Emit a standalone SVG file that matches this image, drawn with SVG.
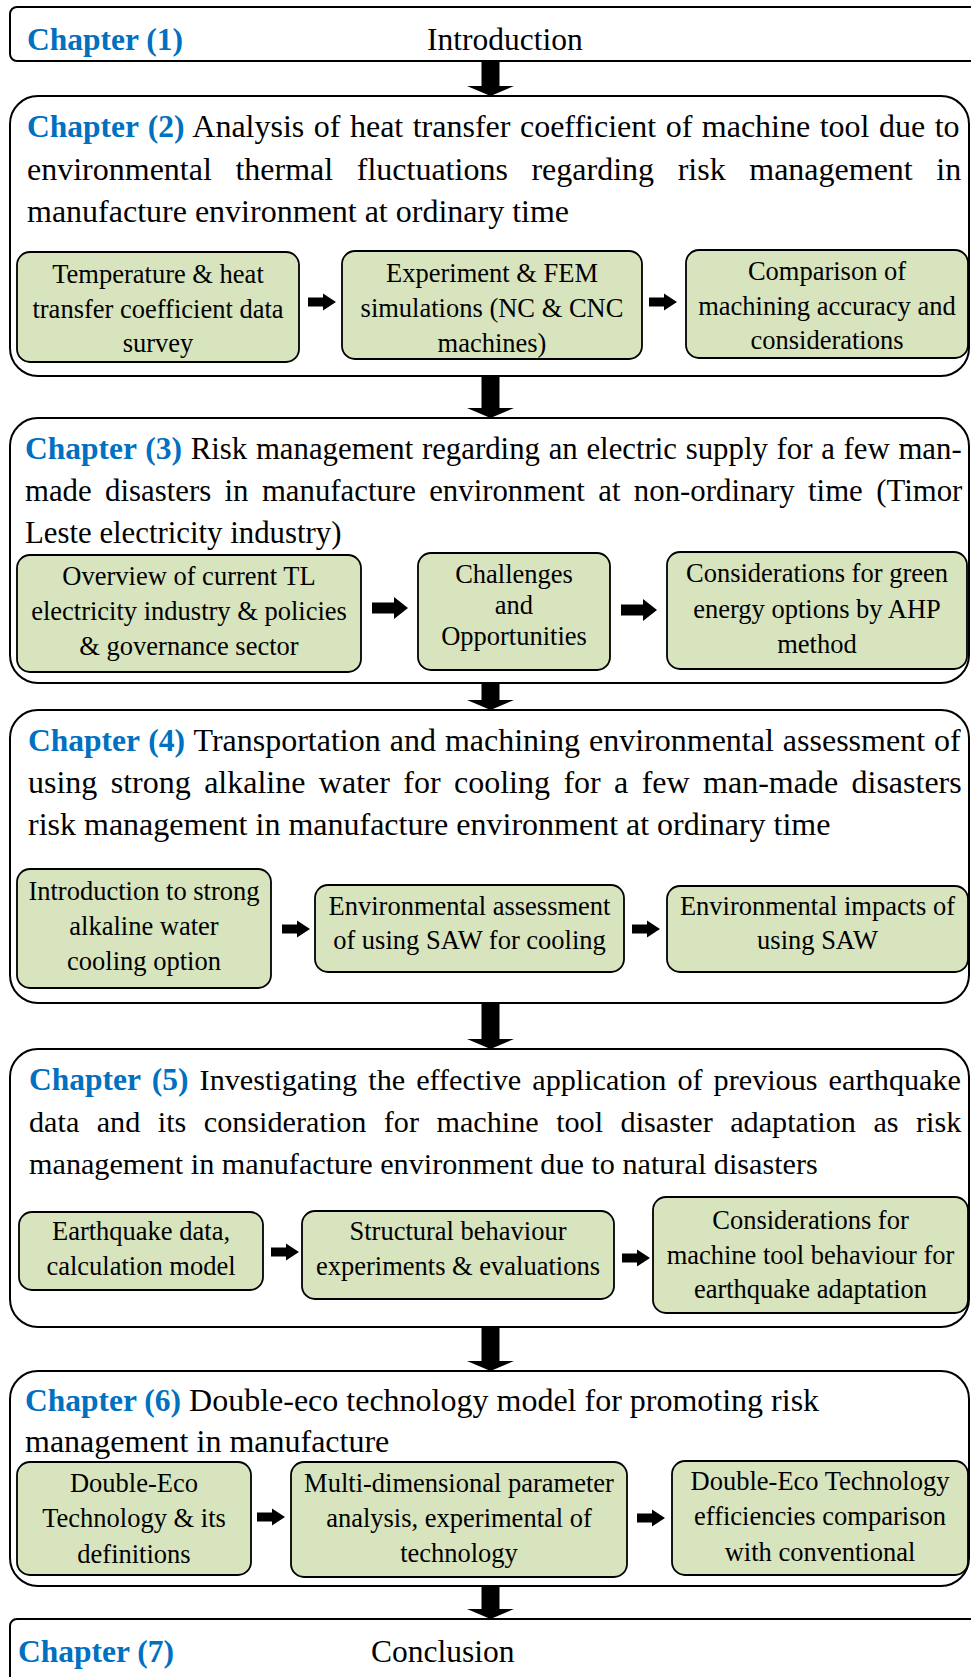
<svg xmlns="http://www.w3.org/2000/svg" width="971" height="1677" viewBox="0 0 971 1677">
<style>
text { font-family: "Liberation Serif", "Times New Roman", serif; fill: #000; }
.lbl { font-weight: bold; fill: #0070c0; font-size: 31.5px; }
.outer { fill: #fff; stroke: #000; stroke-width: 2; }
.sub { fill: #d7e4bd; stroke: #000; stroke-width: 1.8; }
.st { font-size: 26.5px; text-anchor: middle; }
.ct { font-size: 32px; }
.arrow { fill: #000; stroke: none; }
</style>
<defs>
<path id="aS" d="M0,-4.5 H15 V-8.5 L28,0 L15,8.5 V4.5 H0 Z"/>
<path id="aL" d="M0,-5.5 H22 V-11 L36,0 L22,11 V5.5 H0 Z"/>
</defs>
<rect width="971" height="1677" fill="#fff"/>

<g id="ch1">
<rect class="outer" x="10" y="7" width="975" height="54" rx="7"/>
<text x="27" y="50"><tspan class="lbl">Chapter (1)</tspan></text>
<text x="427" y="50" style="font-size:31.5px">Introduction</text>
</g>

<g id="ch2">
<rect class="outer" x="10" y="96" width="959" height="280" rx="28"/>
<text class="ct" x="27" y="137" style="word-spacing:1.5px"><tspan class="lbl">Chapter (2)</tspan> Analysis of heat transfer coefficient of machine tool due to</text>
<text class="ct" x="27" y="180" style="word-spacing:15.6px">environmental thermal fluctuations regarding risk management in</text>
<text class="ct" x="27" y="222">manufacture environment at ordinary time</text>
</g>
<g id="ch2a">
<rect class="sub" x="17" y="252" width="282" height="110" rx="13"/>
<text class="st" x="158" y="283">Temperature &amp; heat</text>
<text class="st" x="158" y="318">transfer coefficient data</text>
<text class="st" x="158" y="352">survey</text>
</g>
<g id="ch2b">
<rect class="sub" x="342" y="251" width="300" height="108" rx="13"/>
<text class="st" x="492" y="282">Experiment &amp; FEM</text>
<text class="st" x="492" y="317">simulations (NC &amp; CNC</text>
<text class="st" x="492" y="352">machines)</text>
</g>
<g id="ch2c">
<rect class="sub" x="686" y="250" width="282" height="108" rx="13"/>
<text class="st" x="827" y="280">Comparison of</text>
<text class="st" x="827" y="315">machining accuracy and</text>
<text class="st" x="827" y="349">considerations</text>
</g>

<g id="ch3">
<rect class="outer" x="10" y="418" width="959" height="265" rx="28"/>
<text x="25" y="459" style="font-size:30.8px;word-spacing:1px"><tspan class="lbl">Chapter (3)</tspan> Risk management regarding an electric supply for a few man-</text>
<text x="25" y="501" style="font-size:30.8px;word-spacing:5.7px">made disasters in manufacture environment at non-ordinary time (Timor</text>
<text x="25" y="543" style="font-size:30.8px">Leste electricity industry)</text>
</g>
<g id="ch3a">
<rect class="sub" x="17" y="555" width="344" height="117" rx="13"/>
<text class="st" x="189" y="585">Overview of current TL</text>
<text class="st" x="189" y="620">electricity industry &amp; policies</text>
<text class="st" x="189" y="655">&amp; governance sector</text>
</g>
<g id="ch3b">
<rect class="sub" x="418" y="553" width="192" height="117" rx="13"/>
<text class="st" x="514" y="583">Challenges</text>
<text class="st" x="514" y="614">and</text>
<text class="st" x="514" y="645">Opportunities</text>
</g>
<g id="ch3c">
<rect class="sub" x="667" y="552" width="300" height="117" rx="13"/>
<text class="st" x="817" y="582">Considerations for green</text>
<text class="st" x="817" y="618">energy options by AHP</text>
<text class="st" x="817" y="653">method</text>
</g>

<g id="ch4">
<rect class="outer" x="10" y="710" width="959" height="293" rx="28"/>
<text class="ct" x="28" y="751" style="word-spacing:1px"><tspan class="lbl">Chapter (4)</tspan> Transportation and machining environmental assessment of</text>
<text class="ct" x="28" y="793" style="word-spacing:5.4px">using strong alkaline water for cooling for a few man-made disasters</text>
<text class="ct" x="28" y="835">risk management in manufacture environment at ordinary time</text>
</g>
<g id="ch4a">
<rect class="sub" x="17" y="869" width="254" height="119" rx="13"/>
<text class="st" x="144" y="900">Introduction to strong</text>
<text class="st" x="144" y="935">alkaline water</text>
<text class="st" x="144" y="970">cooling option</text>
</g>
<g id="ch4b">
<rect class="sub" x="315" y="885" width="309" height="87" rx="13"/>
<text class="st" x="469.5" y="915">Environmental assessment</text>
<text class="st" x="469.5" y="949">of using SAW for cooling</text>
</g>
<g id="ch4c">
<rect class="sub" x="667" y="886" width="301" height="86" rx="13"/>
<text class="st" x="817.5" y="915">Environmental impacts of</text>
<text class="st" x="817.5" y="949">using SAW</text>
</g>

<g id="ch5">
<rect class="outer" x="10" y="1049" width="959" height="278" rx="28"/>
<text x="29" y="1090" style="font-size:30.2px;word-spacing:3.5px"><tspan class="lbl">Chapter (5)</tspan> Investigating the effective application of previous earthquake</text>
<text x="29" y="1132" style="font-size:30.2px;word-spacing:9.9px">data and its consideration for machine tool disaster adaptation as risk</text>
<text x="29" y="1174" style="font-size:30.2px">management in manufacture environment due to natural disasters</text>
</g>
<g id="ch5a">
<rect class="sub" x="19" y="1212" width="244" height="78" rx="13"/>
<text class="st" x="141" y="1240">Earthquake data,</text>
<text class="st" x="141" y="1275">calculation model</text>
</g>
<g id="ch5b">
<rect class="sub" x="302" y="1211" width="312" height="88" rx="13"/>
<text class="st" x="458" y="1240">Structural behaviour</text>
<text class="st" x="458" y="1275">experiments &amp; evaluations</text>
</g>
<g id="ch5c">
<rect class="sub" x="653" y="1197" width="315" height="116" rx="13"/>
<text class="st" x="810.5" y="1229">Considerations for</text>
<text class="st" x="810.5" y="1264">machine tool behaviour for</text>
<text class="st" x="810.5" y="1298">earthquake adaptation</text>
</g>

<g id="ch6">
<rect class="outer" x="10" y="1371" width="959" height="215" rx="28"/>
<text class="ct" x="25" y="1411"><tspan class="lbl">Chapter (6)</tspan> Double-eco technology model for promoting risk</text>
<text class="ct" x="25" y="1452">management in manufacture</text>
</g>
<g id="ch6a">
<rect class="sub" x="17" y="1462" width="234" height="113" rx="13"/>
<text class="st" x="134" y="1492">Double-Eco</text>
<text class="st" x="134" y="1527">Technology &amp; its</text>
<text class="st" x="134" y="1563">definitions</text>
</g>
<g id="ch6b">
<rect class="sub" x="291" y="1462" width="336" height="115" rx="13"/>
<text class="st" x="459" y="1492">Multi-dimensional parameter</text>
<text class="st" x="459" y="1527">analysis, experimental of</text>
<text class="st" x="459" y="1562">technology</text>
</g>
<g id="ch6c">
<rect class="sub" x="672" y="1461" width="296" height="114" rx="13"/>
<text class="st" x="820" y="1490">Double-Eco Technology</text>
<text class="st" x="820" y="1525">efficiencies comparison</text>
<text class="st" x="820" y="1561">with conventional</text>
</g>

<g id="ch7">
<rect class="outer" x="10" y="1619" width="975" height="80" rx="7"/>
<text x="18" y="1662"><tspan class="lbl">Chapter (7)</tspan></text>
<text x="371" y="1662" style="font-size:31.5px">Conclusion</text>
</g>

<g id="connectors" class="arrow">
<path d="M481.5,61 H499.5 V86 H514 L490.5,96 L467,86 H481.5 Z"/>
<path d="M481.5,376 H499.5 V408 H514 L490.5,418 L467,408 H481.5 Z"/>
<path d="M481.5,683 H499.5 V700 H514 L490.5,710 L467,700 H481.5 Z"/>
<path d="M481.5,1003 H499.5 V1039 H514 L490.5,1049 L467,1039 H481.5 Z"/>
<path d="M481.5,1327 H499.5 V1361 H514 L490.5,1371 L467,1361 H481.5 Z"/>
<path d="M481.5,1586 H499.5 V1609 H514 L490.5,1619 L467,1609 H481.5 Z"/>
<use href="#aS" x="308" y="302"/>
<use href="#aS" x="649" y="302"/>
<use href="#aL" x="372" y="608"/>
<use href="#aL" x="621" y="610"/>
<use href="#aS" x="282" y="929"/>
<use href="#aS" x="632" y="929"/>
<use href="#aS" x="271" y="1252"/>
<use href="#aS" x="622" y="1258"/>
<use href="#aS" x="257" y="1517"/>
<use href="#aS" x="637" y="1518"/>
</g>
</svg>
